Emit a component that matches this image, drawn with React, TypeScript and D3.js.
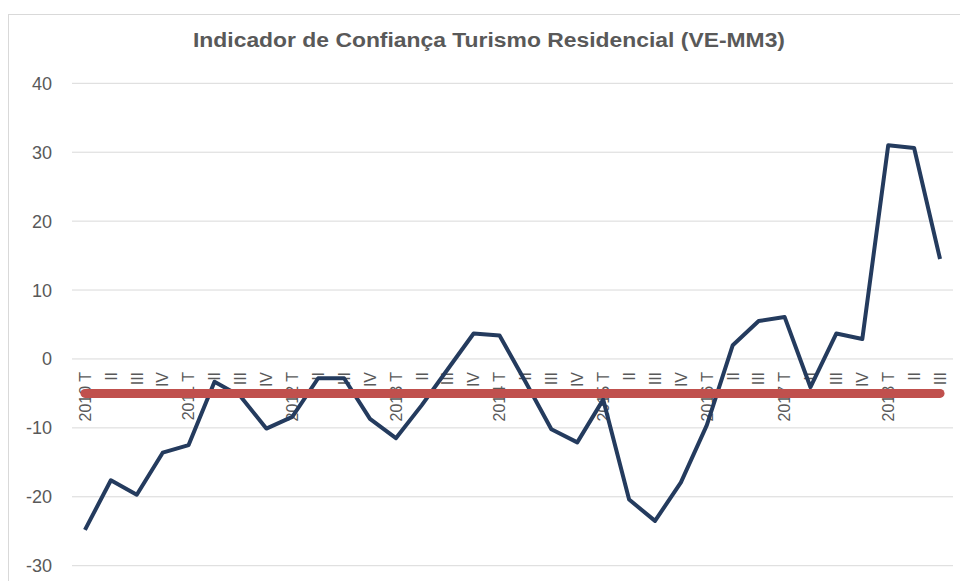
import React from "react";
import * as d3 from "d3";

const years = ["2010", "2011", "2012", "2013", "2014", "2015", "2016", "2017", "2018"];
const quartersPerYear = [4, 4, 4, 4, 4, 4, 3, 4, 3];
const quarterNames = ["T", "II", "III", "IV"];

const confianca = [
  -24.8, -17.6, -19.7, -13.6,
  -12.5, -3.3, -5.4, -10.1,
  -8.4, -2.8, -2.8, -8.7,
  -11.5, -6.7, -1.5, 3.7,
  3.4, -3.3, -10.2, -12.1,
  -5.9, -20.4, -23.5, -17.9,
  -9.6, 2.0, 5.5,
  6.1, -4.1, 3.7, 2.9,
  31.0, 30.6, 14.5,
];
const referencia = -5;
const yTicks = [40, 30, 20, 10, 0, -10, -20, -30];
const title = "Indicador de Confiança Turismo Residencial (VE-MM3)";

const categories: { key: string; label: string }[] = [];
years.forEach((y, i) => {
  for (let q = 0; q < quartersPerYear[i]; q++) {
    categories.push({
      key: `${y}-${q}`,
      label: q === 0 ? `${y} ${quarterNames[q]}` : quarterNames[q],
    });
  }
});

export default function App() {
  const W = 960;
  const H = 581;
  const left = 72;
  const right = 953;
  const x = d3
    .scaleBand<string>()
    .domain(categories.map((c) => c.key))
    .range([left, right])
    .padding(0);
  const cx = (k: string) => (x(k) as number) + x.bandwidth() / 2;
  const y = d3.scaleLinear().domain([-30, 40]).range([565.7, 83.3]);

  const line = d3
    .line<number>()
    .x((_, i) => cx(categories[i].key))
    .y((d) => y(d));

  const refLine = d3
    .line<string>()
    .x((k) => cx(k))
    .y(() => y(referencia));

  const textColor = "#595959";
  const font = "'Liberation Sans', Arial, sans-serif";

  return (
    <svg
      width={W}
      height={H}
      style={{ position: "absolute", left: 0, top: 0, background: "#fff" }}
      fontFamily={font}
    >
      <rect x={0} y={0} width={W} height={H} fill="#fff" />
      <rect x={8.5} y={14.5} width={1000} height={700} fill="none" stroke="#d9d9d9" strokeWidth={1} />
      <text
        x={489}
        y={47}
        textAnchor="middle"
        fontSize={20}
        fontWeight="bold"
        fill={textColor}
        textLength={592}
        lengthAdjust="spacingAndGlyphs"
      >
        {title}
      </text>
      {yTicks.map((t) => (
        <g key={t}>
          <line x1={left} x2={right} y1={y(t)} y2={y(t)} stroke="#d9d9d9" strokeWidth={1} />
          <text x={52} y={y(t)} dy="0.36em" textAnchor="end" fontSize={18} fill={textColor}>
            {t}
          </text>
        </g>
      ))}
      {categories.map((c) => (
        <text
          key={c.key}
          transform={`translate(${cx(c.key)},${y(0) + 13}) rotate(-90)`}
          dy="0.36em"
          textAnchor="end"
          fontSize={16}
          fill={textColor}
        >
          {c.label}
        </text>
      ))}
      <path
        d={line(confianca) || ""}
        fill="none"
        stroke="#243b5e"
        strokeWidth={4}
        strokeLinejoin="round"
      />
      <path
        d={refLine([categories[0].key, categories[categories.length - 1].key]) || ""}
        fill="none"
        stroke="#c0504d"
        strokeWidth={9}
        strokeLinecap="round"
      />
    </svg>
  );
}
